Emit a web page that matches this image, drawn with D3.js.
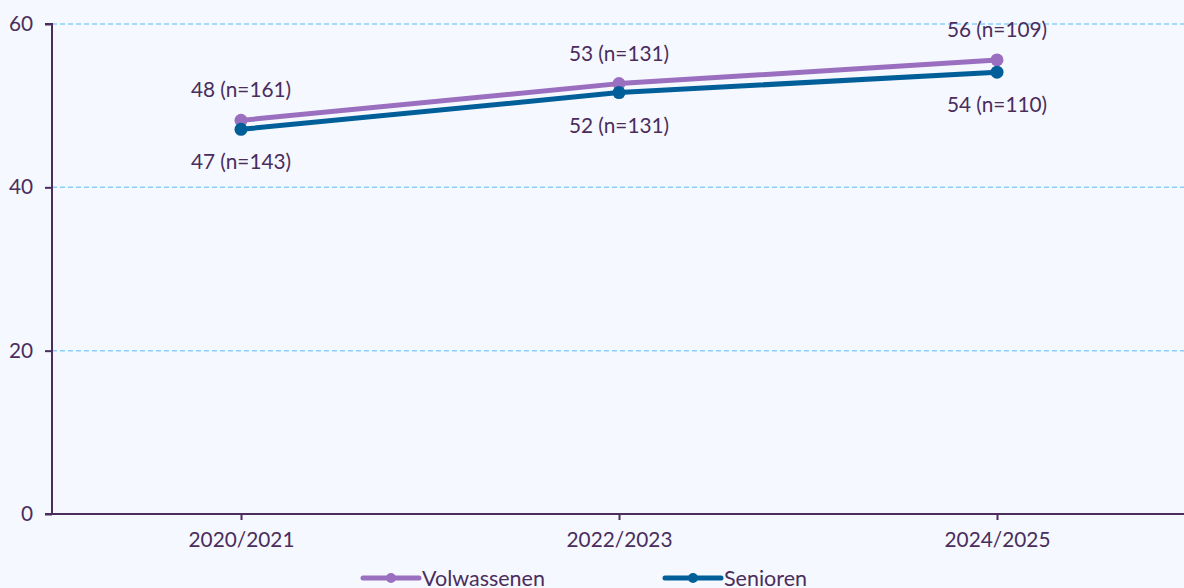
<!DOCTYPE html>
<html><head><meta charset="utf-8">
<script src="https://cdn.jsdelivr.net/npm/d3@7"></script>
<style>
html,body{margin:0;padding:0;background:#f5f8fe;}
svg{display:block;font-family:Lato,sans-serif;}
</style></head>
<body><svg id="c" width="1184" height="588"></svg>
<script>
const categories = ["2020/2021","2022/2023","2024/2025"];
const volwassenen = [48.2, 52.7, 55.6];
const volwassenenN = [161, 131, 109];
const senioren = [47.1, 51.6, 54.1];
const seniorenN = [143, 131, 110];
const yTicks = [0, 20, 40, 60];
const seriesNames = ["Volwassenen", "Senioren"];
const colors = ["#9b6fc0", "#005f99"];
const textColor = "#4a2d5c";
const fs = "20.8px";

const svg = d3.select("#c");
const m = {l:52, r:-2, t:24, b:74};
const W = 1184, H = 588;
const x = d3.scalePoint().domain(categories).range([m.l, W - m.r]).padding(0.5);
const y = d3.scaleLinear().domain([0, 60]).range([H - m.b, m.t]);

// grid
svg.append("g").selectAll("line").data(yTicks.filter(d => d > 0)).join("line")
  .attr("x1", m.l).attr("x2", W).attr("y1", d => y(d)).attr("y2", d => y(d))
  .attr("stroke", "#8ccffa").attr("stroke-width", 1.5).attr("stroke-dasharray", "5,3");

// y axis
const ya = svg.append("g").attr("transform", `translate(${m.l},0)`)
  .call(d3.axisLeft(y).tickValues(yTicks).tickSize(7).tickPadding(12));
ya.select(".domain").attr("stroke", textColor).attr("stroke-width", 2).attr("d", `M-7,${y(60)}H0V${y(0)}H-7`);
ya.selectAll(".tick line").attr("stroke", textColor).attr("stroke-width", 2);
ya.selectAll("text").attr("fill", textColor).style("font-size", fs).style("font-family", "Lato");

// x axis
const xa = svg.append("g").attr("transform", `translate(0,${y(0)})`)
  .call(d3.axisBottom(x).tickSize(6).tickPadding(12));
xa.select(".domain").attr("stroke", textColor).attr("stroke-width", 2).attr("d", `M${m.l},0H${W}`);
xa.selectAll(".tick line").attr("stroke", textColor).attr("stroke-width", 2);
xa.selectAll("text").attr("fill", textColor).style("font-size", fs).style("font-family", "Lato");

const series = [
  {name: seriesNames[0], vals: volwassenen, n: volwassenenN, color: colors[0], dy: -23},
  {name: seriesNames[1], vals: senioren, n: seniorenN, color: colors[1], dy: 40}
];
const line = d3.line().x((d, i) => x(categories[i])).y(d => y(d));
series.forEach(s => {
  svg.append("path").datum(s.vals).attr("d", line).attr("fill", "none")
    .attr("stroke", s.color).attr("stroke-width", 5).attr("stroke-linejoin", "round");
  svg.append("g").selectAll("circle").data(s.vals).join("circle")
    .attr("cx", (d, i) => x(categories[i])).attr("cy", d => y(d)).attr("r", 6.5).attr("fill", s.color);
  svg.append("g").selectAll("text").data(s.vals).join("text")
    .attr("x", (d, i) => x(categories[i])).attr("y", d => y(d) + s.dy)
    .attr("text-anchor", "middle").attr("fill", textColor).style("font-size", fs)
    .text((d, i) => `${Math.round(d)} (n=${s.n[i]})`);
});

// legend
const leg = [{x: 363}, {x: 665}];
series.forEach((s, i) => {
  const g = svg.append("g").attr("transform", `translate(${leg[i].x},578)`);
  g.append("line").attr("x1", 0).attr("x2", 56).attr("y1", 0).attr("y2", 0)
    .attr("stroke", s.color).attr("stroke-width", 5).attr("stroke-linecap", "round");
  g.append("circle").attr("cx", 28).attr("cy", 0).attr("r", 5).attr("fill", s.color);
  g.append("text").attr("x", 59).attr("y", 8).attr("fill", textColor).style("font-size", "21.5px").text(s.name);
});
</script></body></html>
